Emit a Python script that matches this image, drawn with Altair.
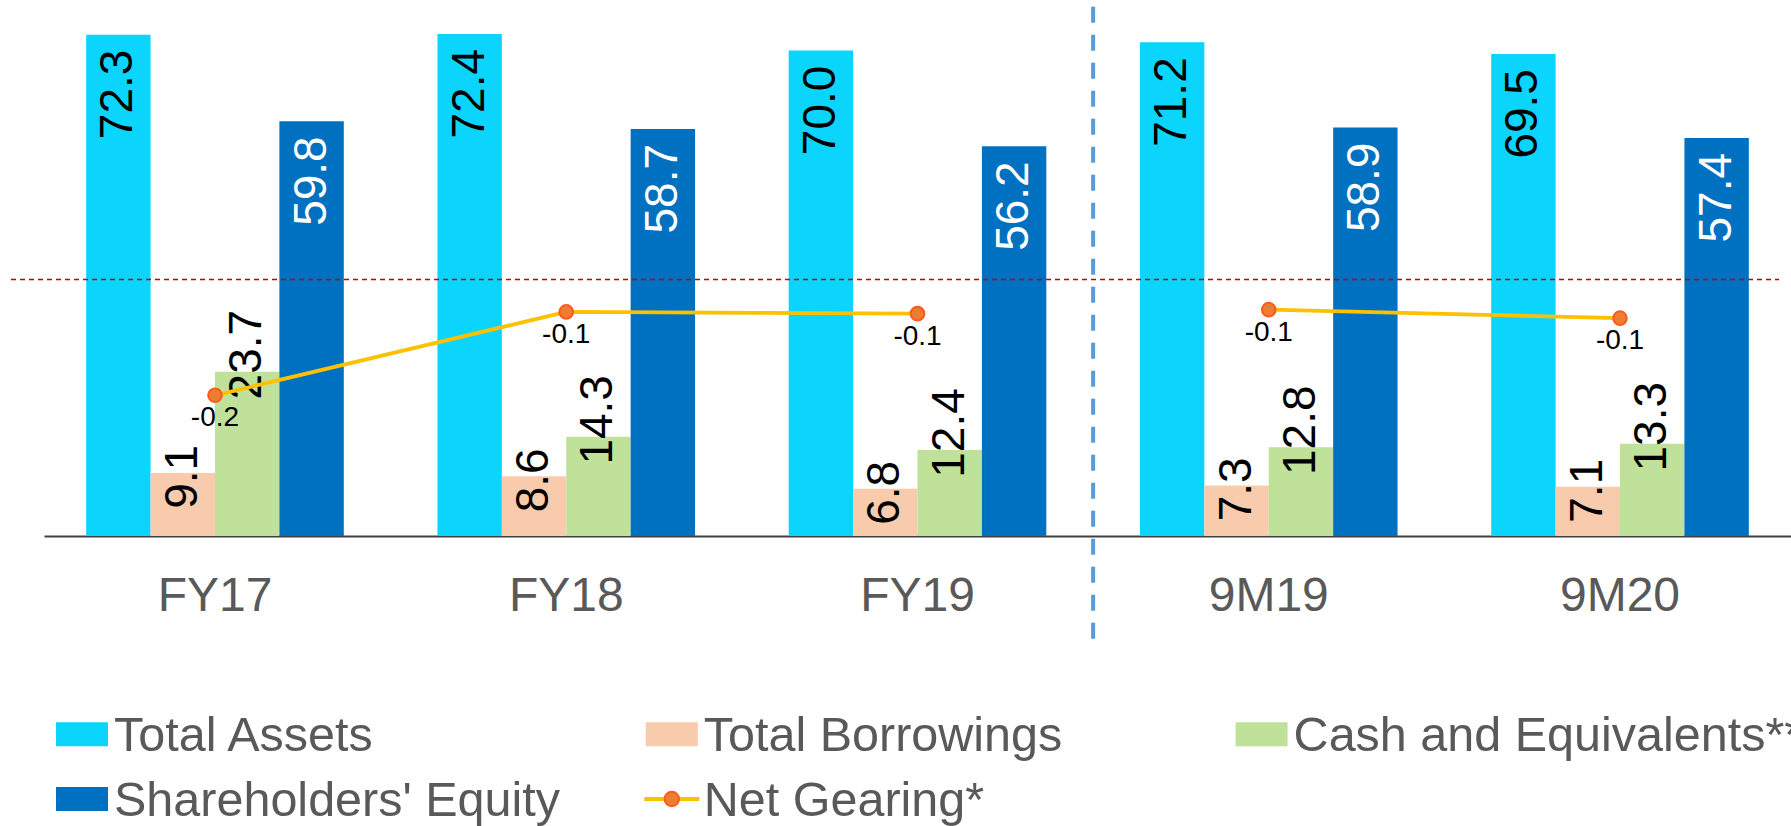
import altair as alt
import pandas as pd

# ---------------- data ----------------
categories = ["FY17", "FY18", "FY19", "9M19", "9M20"]
periods = ["FY", "FY", "FY", "9M", "9M"]
series = ["Total Assets", "Total Borrowings", "Cash and Equivalents**", "Shareholders' Equity"]
total_assets = [72.3, 72.4, 70.0, 71.2, 69.5]
total_borrowings = [9.1, 8.6, 6.8, 7.3, 7.1]
cash_equivalents = [23.7, 14.3, 12.4, 12.8, 13.3]
shareholders_equity = [59.8, 58.7, 56.2, 58.9, 57.4]
net_gearing = [-0.244, -0.097, -0.100, -0.093, -0.108]
line_name = "Net Gearing*"
reference_value = [37]
separator_after = ["FY19"]

bar_colors = ["#0BD5FD", "#F7CBAC", "#BFE19A", "#0070C0"]
line_color = "#FFC000"
point_fill = "#ED7D31"
point_stroke = "#FF5A1F"
text_gray = "#595959"
FONT = "Liberation Sans"

# ---------------- tables ----------------
series_values = [total_assets, total_borrowings, cash_equivalents, shareholders_equity]
bars_df = pd.DataFrame(
    [{"category": c, "series": s, "value": v}
     for s, vals in zip(series, series_values)
     for c, v in zip(categories, vals)]
)
line_df = pd.DataFrame({"category": categories, "period": periods, "gearing": net_gearing})
legend_items = series + [line_name]
legend_df = pd.DataFrame({"label": legend_items, "idx": list(range(len(legend_items)))})
ref_df = pd.DataFrame({"ref": reference_value})
sep_df = pd.DataFrame({"sep": separator_after})

# ---------------- scales ----------------
W, H = 1747, 527
PI, PO = 0.2666, 0.1201
STEP = W / (len(categories) - PI + 2 * PO)
x_scale = alt.Scale(type="band", domain=categories, paddingInner=PI, paddingOuter=PO)
xo_scale = alt.Scale(type="band", domain=series, paddingInner=0, paddingOuter=0)
y_scale = alt.Scale(domain=[0, 76], nice=False, zero=True)
g_scale = alt.Scale(domain=[-0.492, 0.437], nice=False, zero=False)
color_scale = alt.Scale(domain=legend_items, range=bar_colors + [line_color])

x_noaxis = alt.X("category:N", scale=x_scale, sort=categories, axis=None)
xo = alt.XOffset("series:N", scale=xo_scale, sort=series)
y_val = alt.Y("value:Q", scale=y_scale, axis=None)

bars = alt.Chart(bars_df).mark_bar().encode(
    x=alt.X(
        "category:N", scale=x_scale, sort=categories,
        axis=alt.Axis(
            title=None, labelAngle=0, labelFontSize=48, labelColor=text_gray,
            labelFont=FONT, labelPadding=74, labelBaseline="alphabetic",
            ticks=False, tickSize=0, grid=False,
            domainColor="#404040", domainWidth=2,
        ),
    ),
    xOffset=xo,
    y=y_val,
    color=alt.Color("series:N", scale=color_scale, legend=None),
)


def bar_labels(name, align, dx, color):
    return (
        alt.Chart(bars_df)
        .transform_filter(alt.datum.series == name)
        .mark_text(angle=270, align=align, baseline="middle", dx=dx,
                   fontSize=46, font=FONT, color=color)
        .encode(x=x_noaxis, xOffset=xo, y=y_val,
                text=alt.Text("value:Q", format=".1f"))
    )


lbl_assets = bar_labels("Total Assets", "right", -15, "black")
lbl_borrow = bar_labels("Total Borrowings", "center", -4, "black")
lbl_cash = bar_labels("Cash and Equivalents**", "center", 17, "black")
lbl_equity = bar_labels("Shareholders' Equity", "right", -15, "white")

ref_rule = alt.Chart(ref_df).mark_rule(
    color="#C00000", strokeDash=[5, 4], strokeWidth=1.5
).encode(
    y=alt.Y("ref:Q", scale=y_scale, axis=None),
    x=alt.value(-33), x2=alt.value(1735),
)

# separator sits in the middle of the gap after FY19
sep_rule = alt.Chart(sep_df).mark_rule(
    color="#5B9BD5", strokeWidth=4, strokeDash=[16, 12], xOffset=PI * STEP / 2
).encode(
    x=alt.X("sep:N", scale=x_scale, bandPosition=1, axis=None),
    y=alt.value(-2.3), y2=alt.value(630.3),
)

g_y = alt.Y("gearing:Q", scale=g_scale, axis=None)
gear_line = alt.Chart(line_df).mark_line(color=line_color, strokeWidth=3.8).encode(
    x=x_noaxis, y=g_y, detail="period:N"
)
gear_pts = alt.Chart(line_df).mark_circle(
    size=185, color=point_fill, stroke=point_stroke, strokeWidth=2, opacity=1
).encode(x=x_noaxis, y=g_y)
gear_lbl = (
    alt.Chart(line_df)
    .transform_calculate(glabel="(datum.gearing < 0 ? '-' : '') + format(abs(datum.gearing), '.1f')")
    .mark_text(fontSize=28, font=FONT, baseline="middle", align="center", dy=23, color="black")
    .encode(x=x_noaxis, y=g_y, text="glabel:N")
)

# ---------------- legend (drawn as marks) ----------------
leg_base = alt.Chart(legend_df).transform_calculate(
    col="datum.idx % 3", row="floor(datum.idx / 3)"
)
lx = alt.X("col:Q", scale=alt.Scale(domain=[0, 2], range=[38, 1217.6]), axis=None)
ly = alt.Y("row:Q", scale=alt.Scale(domain=[0, 1], range=[725.3, 790]), axis=None)

leg_swatch = leg_base.transform_filter(alt.datum.idx < 4).mark_point(
    shape="M-1,-0.46H1V0.46H-1Z", size=2704, filled=True, opacity=1, strokeWidth=0
).encode(x=lx, y=ly, color=alt.Color("label:N", scale=color_scale, legend=None))

leg_line = leg_base.transform_filter(alt.datum.idx == 4).mark_point(
    shape="M-1,-0.0727H1V0.0727H-1Z", size=3025, filled=True, color=line_color,
    opacity=1, strokeWidth=0
).encode(x=lx, y=ly)

leg_dot = leg_base.transform_filter(alt.datum.idx == 4).mark_circle(
    size=210, color=point_fill, stroke=point_stroke, strokeWidth=2, opacity=1
).encode(x=lx, y=ly)

leg_text = leg_base.mark_text(
    align="left", baseline="middle", dx=32, dy=2, fontSize=48.5, font=FONT, color=text_gray
).encode(x=lx, y=ly, text="label:N")

chart = (
    alt.layer(
        bars, lbl_assets, lbl_borrow, lbl_cash, lbl_equity,
        ref_rule, sep_rule, gear_line, gear_pts, gear_lbl,
        leg_swatch, leg_line, leg_dot, leg_text,
    )
    .resolve_scale(x="independent", y="independent")
    .properties(
        width=W, height=H,
        autosize=alt.AutoSizeParams(type="none"),
        padding={"left": 44, "top": 9, "right": 0, "bottom": 290},
        background="white",
    )
    .configure_view(strokeWidth=0)
)

chart.save("out.html", embed_options={"renderer": "svg", "actions": False})
